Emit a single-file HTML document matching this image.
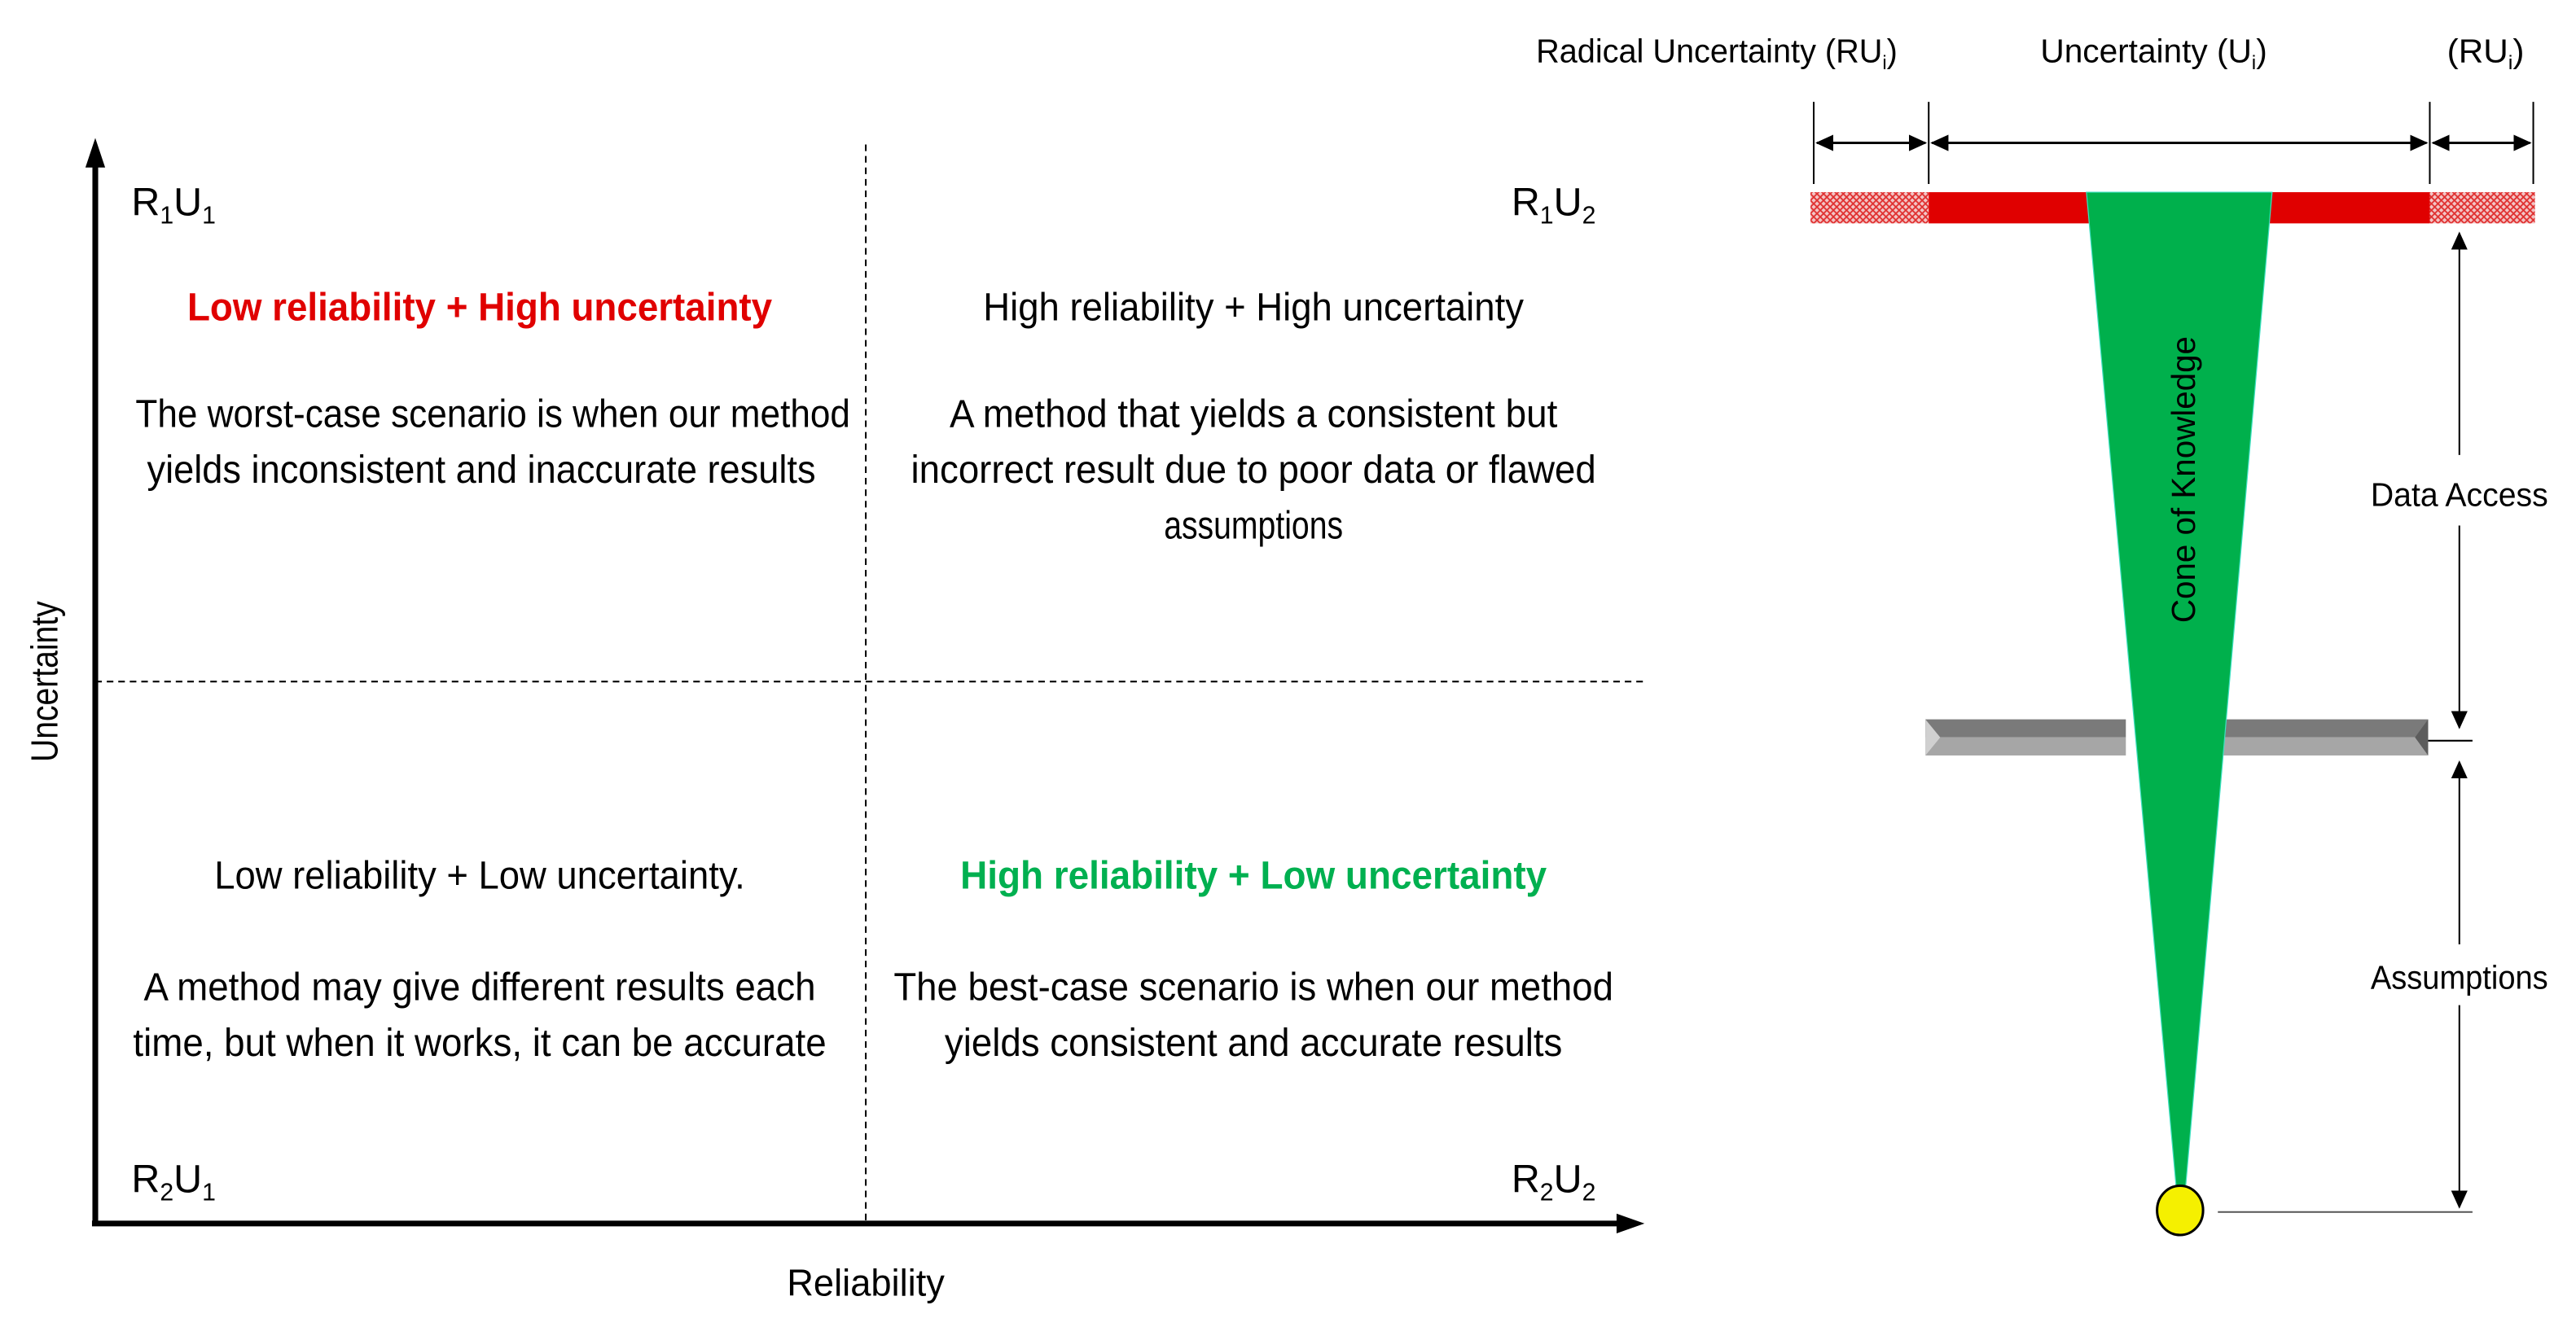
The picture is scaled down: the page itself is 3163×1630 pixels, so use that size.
<!DOCTYPE html>
<html><head><meta charset="utf-8"><style>
html,body{margin:0;padding:0;background:#fff;}
svg{display:block;}
text{font-family:"Liberation Sans",Arial,sans-serif;}
</style></head><body>
<svg width="3163" height="1630" viewBox="0 0 1568 808" xmlns="http://www.w3.org/2000/svg">
<defs>
<pattern id="hatch" width="4" height="4" patternUnits="userSpaceOnUse">
<rect width="4" height="4" fill="#f3c6c6"/>
<path d="M0,0 L4,4 M4,0 L0,4" stroke="#e03030" stroke-width="0.9"/>
</pattern>
<marker id="ah" markerWidth="11" markerHeight="10" refX="10" refY="5" orient="auto-start-reverse" markerUnits="userSpaceOnUse">
<path d="M0,0 L11,5 L0,10 Z" fill="#000"/>
</marker>
</defs>

<g>
<line x1="58" y1="746" x2="58" y2="100" stroke="#000" stroke-width="3.5"/>
<path d="M52,102 L58,84 L64,102 Z" fill="#000"/>
<line x1="56" y1="745" x2="986" y2="745" stroke="#000" stroke-width="3.5"/>
<path d="M984,739 L1001,745 L984,751 Z" fill="#000"/>
<line x1="527" y1="88" x2="527" y2="745" stroke="#000" stroke-width="1" stroke-dasharray="4,3"/>
<line x1="58" y1="415" x2="1000" y2="415" stroke="#000" stroke-width="1" stroke-dasharray="4,3"/>

<text transform="translate(35,415) rotate(-90)" text-anchor="middle" font-size="23" textLength="98" lengthAdjust="spacingAndGlyphs">Uncertainty</text>
<text x="527" y="789" text-anchor="middle" font-size="23" textLength="96" lengthAdjust="spacingAndGlyphs">Reliability</text>

<text x="80" y="131" font-size="24">R<tspan font-size="15" dy="5">1</tspan><tspan dy="-5">U</tspan><tspan font-size="15" dy="5">1</tspan></text>
<text x="920" y="131" font-size="24">R<tspan font-size="15" dy="5">1</tspan><tspan dy="-5">U</tspan><tspan font-size="15" dy="5">2</tspan></text>
<text x="80" y="726" font-size="24">R<tspan font-size="15" dy="5">2</tspan><tspan dy="-5">U</tspan><tspan font-size="15" dy="5">1</tspan></text>
<text x="920" y="726" font-size="24">R<tspan font-size="15" dy="5">2</tspan><tspan dy="-5">U</tspan><tspan font-size="15" dy="5">2</tspan></text>

<g font-size="24" text-anchor="middle">
<text x="292" y="195" fill="#e00000" font-weight="bold" textLength="356" lengthAdjust="spacingAndGlyphs">Low reliability + High uncertainty</text>
<text x="300" y="260" textLength="435" lengthAdjust="spacingAndGlyphs">The worst-case scenario is when our method</text>
<text x="293" y="294" textLength="407" lengthAdjust="spacingAndGlyphs">yields inconsistent and inaccurate results</text>
</g>
<g font-size="24" text-anchor="middle">
<text x="763" y="195" textLength="329" lengthAdjust="spacingAndGlyphs">High reliability + High uncertainty</text>
<text x="763" y="260" textLength="370" lengthAdjust="spacingAndGlyphs">A method that yields a consistent but</text>
<text x="763" y="294" textLength="417" lengthAdjust="spacingAndGlyphs">incorrect result due to poor data or flawed</text>
<text x="763" y="328" textLength="109" lengthAdjust="spacingAndGlyphs">assumptions</text>
</g>
<g font-size="24" text-anchor="middle">
<text x="292" y="541" textLength="323" lengthAdjust="spacingAndGlyphs">Low reliability + Low uncertainty.</text>
<text x="292" y="609" textLength="409" lengthAdjust="spacingAndGlyphs">A method may give different results each</text>
<text x="292" y="643" textLength="422" lengthAdjust="spacingAndGlyphs">time, but when it works, it can be accurate</text>
</g>
<g font-size="24" text-anchor="middle">
<text x="763" y="541" fill="#00b050" font-weight="bold" textLength="357" lengthAdjust="spacingAndGlyphs">High reliability + Low uncertainty</text>
<text x="763" y="609" textLength="438" lengthAdjust="spacingAndGlyphs">The best-case scenario is when our method</text>
<text x="763" y="643" textLength="376" lengthAdjust="spacingAndGlyphs">yields consistent and accurate results</text>
</g>
</g>

<g>
<g font-size="20" text-anchor="middle">
<text x="1045" y="38" textLength="220" lengthAdjust="spacingAndGlyphs">Radical Uncertainty  (RU<tspan font-size="12" dy="4">i</tspan><tspan dy="-4">)</tspan></text>
<text x="1311" y="38" textLength="138" lengthAdjust="spacingAndGlyphs">Uncertainty  (U<tspan font-size="12" dy="4">i</tspan><tspan dy="-4">)</tspan></text>
<text x="1513" y="38" textLength="47" lengthAdjust="spacingAndGlyphs">(RU<tspan font-size="12" dy="4">i</tspan><tspan dy="-4">)</tspan></text>
</g>
<g stroke="#000" stroke-width="1">
<line x1="1104" y1="62" x2="1104" y2="112"/>
<line x1="1174" y1="62" x2="1174" y2="112"/>
<line x1="1479" y1="62" x2="1479" y2="112"/>
<line x1="1542" y1="62" x2="1542" y2="112"/>
<line x1="1106" y1="87" x2="1172" y2="87" stroke-width="1.5" marker-start="url(#ah)" marker-end="url(#ah)"/>
<line x1="1176" y1="87" x2="1477" y2="87" stroke-width="1.5" marker-start="url(#ah)" marker-end="url(#ah)"/>
<line x1="1481" y1="87" x2="1540" y2="87" stroke-width="1.5" marker-start="url(#ah)" marker-end="url(#ah)"/>
</g>
<rect x="1102" y="117" width="72" height="19" fill="url(#hatch)"/>
<rect x="1479" y="117" width="64" height="19" fill="url(#hatch)"/>
<rect x="1174" y="117" width="305" height="19" fill="#e00000"/>

<g>
<rect x="1172" y="438" width="122" height="11" fill="#7a7a7a"/>
<rect x="1172" y="449" width="122" height="11" fill="#a6a6a6"/>
<path d="M1172,438 L1181,449 L1172,460 Z" fill="#d0d0d0"/>
</g>
<g>
<rect x="1330" y="438" width="148" height="11" fill="#7a7a7a"/>
<rect x="1330" y="449" width="148" height="11" fill="#a6a6a6"/>
<path d="M1478,438 L1470,449 L1478,460 Z" fill="#5c5c5c"/>
</g>

<path d="M1270,117 L1383,117 L1330,727 L1325,727 Z" fill="#00b04c" stroke="#3de0c0" stroke-width="0.6"/>
<text transform="translate(1336,292) rotate(-90)" text-anchor="middle" font-size="20">Cone of Knowledge</text>

<ellipse cx="1327" cy="737" rx="14" ry="15" fill="#f5f000" stroke="#000" stroke-width="1.5"/>

<g stroke="#000" stroke-width="1">
<line x1="1497" y1="142" x2="1497" y2="277" marker-start="url(#ah)"/>
<line x1="1497" y1="320" x2="1497" y2="443" marker-end="url(#ah)"/>
<line x1="1478" y1="451" x2="1505" y2="451"/>
<line x1="1497" y1="464" x2="1497" y2="575" marker-start="url(#ah)"/>
<line x1="1497" y1="612" x2="1497" y2="735" marker-end="url(#ah)"/>
<line x1="1350" y1="738" x2="1505" y2="738" stroke="#555"/>
</g>
<text x="1497" y="308" text-anchor="middle" font-size="20" textLength="108" lengthAdjust="spacingAndGlyphs">Data Access</text>
<text x="1497" y="602" text-anchor="middle" font-size="20" textLength="108" lengthAdjust="spacingAndGlyphs">Assumptions</text>
</g>
</svg>
</body></html>
